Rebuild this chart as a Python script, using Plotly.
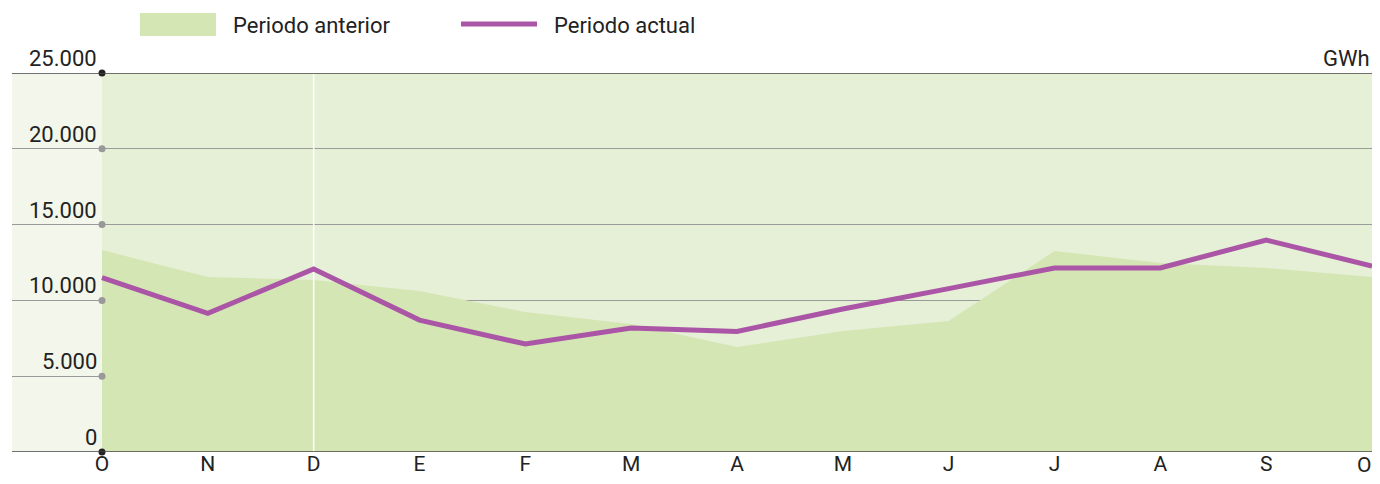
import plotly.graph_objects as go

months = ["O", "N", "D", "E", "F", "M", "A", "M", "J", "J", "A", "S", "O"]
anterior = [13320, 11540, 11350, 10620, 9230, 8450, 6930, 7980, 8640, 13260, 12470, 12140, 11540]
actual = [11500, 9150, 12070, 8700, 7120, 8180, 7950, 9430, 10780, 12140, 12140, 13980, 12270]
y_ticks = [0, 5000, 10000, 15000, 20000, 25000]
y_tick_text = ["0", "5.000", "10.000", "15.000", "20.000", "25.000"]

FONT = "Roboto, Liberation Sans Narrow, sans-serif"
TXT = "#222222"
AREA = "#d5e6b5"
BG_IN = "#e6f0d6"
BG_OUT = "#f3f7eb"
PURPLE = "#aa55a5"

OFF = 8  # page body margin
W, H = 1380 - 2 * OFF, 484 - 2 * OFF
L, T = 12 - OFF, 73 - OFF
R = W - (1372 - OFF)
B = H - (452 - OFF)
pw = W - L - R
ph = H - T - B

def px(x):
    return (x - OFF - L) / pw

def py(y):
    return (H - B - (y - OFF)) / ph

xs = list(range(len(months)))
units = 12 + 90 / (1270 / 12)
fig = go.Figure()

fig.add_trace(go.Scatter(x=xs, y=anterior, mode="lines", line=dict(width=0, color=AREA),
                         fill="tozeroy", fillcolor=AREA, hoverinfo="skip", showlegend=False))
fig.add_trace(go.Scatter(x=[2, 2], y=[0, 25000], mode="lines", line=dict(color="white", width=1.5),
                         hoverinfo="skip", showlegend=False))
fig.add_trace(go.Scatter(x=xs, y=actual, mode="lines", line=dict(color=PURPLE, width=5),
                         showlegend=False))
dot_colors = ["#222222" if v in (0, 25000) else "#999999" for v in y_ticks]
fig.add_trace(go.Scatter(x=[0] * len(y_ticks), y=y_ticks, mode="markers",
                         marker=dict(color=dot_colors, size=7), cliponaxis=False,
                         hoverinfo="skip", showlegend=False))

shapes = [
    dict(type="rect", xref="x", yref="y", x0=0, x1=12, y0=0, y1=25000,
         fillcolor=BG_IN, line=dict(width=0), layer="below"),
    dict(type="line", xref="paper", yref="y", x0=0, x1=1, y0=25000, y1=25000,
         line=dict(color="#444444", width=1.5)),
    dict(type="line", xref="paper", yref="y", x0=0, x1=1, y0=0, y1=0,
         line=dict(color="#444444", width=1.5)),
    dict(type="rect", xref="paper", yref="paper", x0=px(140), x1=px(216), y0=py(36), y1=py(13),
         fillcolor=AREA, line=dict(width=0)),
    dict(type="line", xref="paper", yref="paper", x0=px(461), x1=px(537), y0=py(24), y1=py(24),
         line=dict(color=PURPLE, width=5)),
]

annotations = []
for v, t in zip(y_ticks, y_tick_text):
    annotations.append(dict(x=0, y=v, xref="x", yref="y", text=t, showarrow=False,
                            xanchor="right", yanchor="bottom", xshift=-3, yshift=0,
                            font=dict(family=FONT, size=22, color=TXT)))
annotations.append(dict(x=1, y=25000, xref="paper", yref="y", text="GWh", showarrow=False,
                        xanchor="right", yanchor="bottom", xshift=0, yshift=0,
                        font=dict(family=FONT, size=22, color=TXT)))
annotations.append(dict(x=px(231), y=py(25), xref="paper", yref="paper", text="Periodo anterior",
                        showarrow=False, xanchor="left", yanchor="middle",
                        font=dict(family=FONT, size=22, color=TXT)))
annotations.append(dict(x=px(552), y=py(25), xref="paper", yref="paper", text="Periodo actual",
                        showarrow=False, xanchor="left", yanchor="middle",
                        font=dict(family=FONT, size=22, color=TXT)))
# last month label: keep inside the page edge
annotations.append(dict(x=xs[-1], y=0, xref="x", yref="y", text=months[-1], showarrow=False,
                        xanchor="right", yanchor="top", xshift=1, yshift=1,
                        font=dict(family=FONT, size=21, color=TXT)))

tick_text = months[:-1] + [""]

fig.update_layout(
    width=W, height=H,
    margin=dict(l=L, r=R, t=T, b=B, pad=0, autoexpand=False),
    paper_bgcolor="white", plot_bgcolor=BG_OUT,
    shapes=shapes, annotations=annotations,
    showlegend=False,
    xaxis=dict(range=[12 - units, 12], tickvals=xs, ticktext=tick_text,
               showgrid=False, zeroline=False, showline=False, ticks="",
               ticklabelstandoff=-3, automargin=False,
               tickfont=dict(family=FONT, size=21, color=TXT), fixedrange=True),
    yaxis=dict(range=[0, 25000], tickvals=[5000, 10000, 15000, 20000], showticklabels=False,
               showgrid=True, gridcolor="#9a9a9a", gridwidth=1, zeroline=False,
               showline=False, ticks="", fixedrange=True, automargin=False),
)

fig.write_html("out.html")
